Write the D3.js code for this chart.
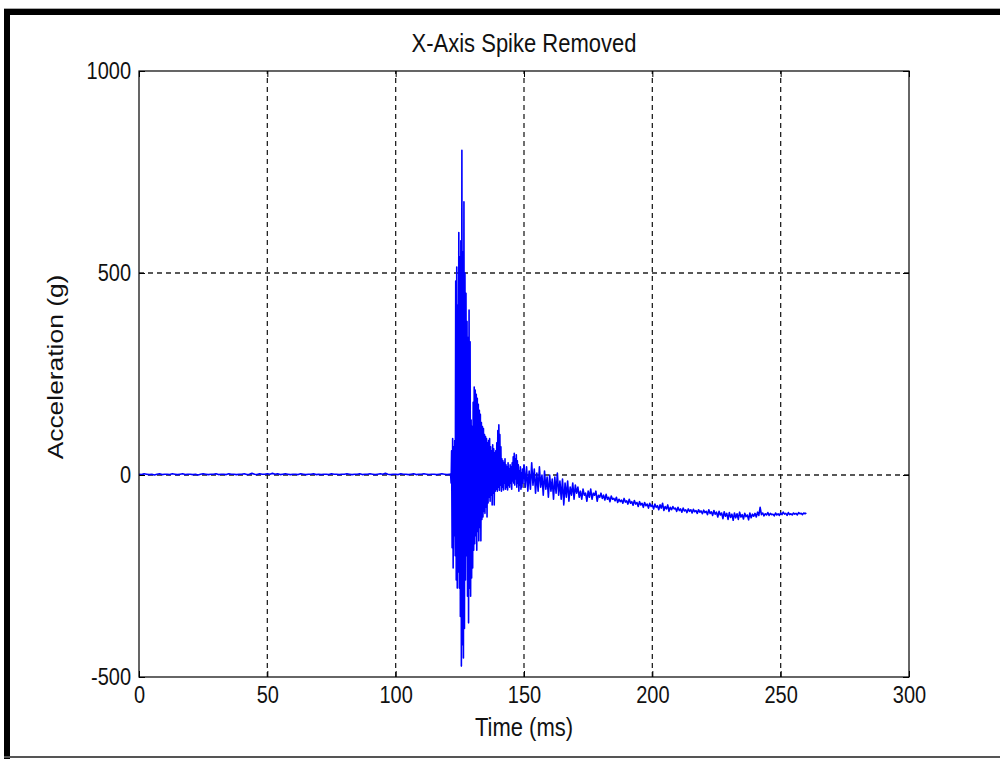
<!DOCTYPE html>
<html>
<head>
<meta charset="utf-8">
<script src="https://cdn.jsdelivr.net/npm/d3@7"></script>
<style>
  html, body { margin: 0; padding: 0; background: #fff; }
  svg { display: block; font-family: "Liberation Sans", Arial, sans-serif; }
</style>
</head>
<body>
<svg id="chart" width="1000" height="759"></svg>
<script>
// ---- data ----
const titleText = "X-Axis Spike Removed";
const xLabelText = "Time (ms)";
const yLabelText = "Acceleration (g)";
const xTicks = [0, 50, 100, 150, 200, 250, 300];
const yTicks = [-500, 0, 500, 1000];
const xDomain = [0, 300];
const yDomain = [-500, 1000];

// pre-event segment: 0..120 ms, 1 ms step
const preStart = 0, preStep = 1;
const preAccel = [2,1,3,2,1,2,0,2,3,1, 2,2,1,3,2,1,2,3,1,2, 2,1,2,0,2,3,2,1,2,2,
  3,1,2,2,1,3,2,2,1,2, 2,3,1,2,4,2,1,3,2,2, 3,2,4,2,3,1,2,3,2,1, 2,2,1,3,2,1,2,2,3,1,
  2,1,2,2,1,3,2,2,1,2, 2,3,2,1,2,2,3,1,2,2, 3,2,1,2,3,2,4,2,1,2, 2,1,3,2,2,1,2,3,1,2,
  2,3,2,1,2,2,1,2,3,2, 1];

// impact burst: 121..149.8 ms, 0.2 ms step
const burstStart = 121, burstStep = 0.2;
const burstAccel = [2,0,3,-20,60,-180,90,-230,70,-150,
  85,-200,480,-260,515,-280,420,-240,600,-280,
  540,-350,580,-473,804,-420,552,-453,676,-380,
  500,-260,450,-200,380,-300,340,-366,408,-280,
  330,-300,136,-255,120,-230,180,-186,218,-170,
  210,-150,200,-186,190,-140,175,-163,160,-130,
  150,-163,130,-110,120,-104,115,-90,100,-95,
  95,-80,90,-104,80,-69,85,-55,90,-65,
  70,-50,60,-74,75,-45,65,-74,55,-40,
  60,-35,80,-40,110,-30,124,-38,100,-25,
  70,-40,40,-30,35,-37,30,-20,40,-35,
  25,-30,20,-37,30,-25,15,-30,25,-20,
  20,-35,30,-15,45,-20,54,-25,40,-10,
  50,-30,35,-20,25,-40,10,-25,20,-35,
  5,-30,15,-20,10];

// decay: 150..179.5 ms, 0.5 ms step
const decayStart = 150, decayStep = 0.5;
const decayAccel = [25,-30,20,-40,10,-35,30,-25,15,-45,
  5,-40,20,-30,0,-50,10,-35,-5,-55,
  0,-40,-10,-60,-5,-45,5,-50,-15,-60,
  -10,-74,-20,-55,-15,-65,-30,-50,-20,-60,
  -25,-45,-30,-55,-40,-60,-35,-50,-45,-65,
  -40,-55,-35,-60,-45,-50,-40,-65,-50,-55];

// tail: 180..260 ms, 0.5 ms step
const tailStart = 180, tailStep = 0.5;
const tailAccel = [-45,-58,-50,-62,-48,-60,-55,-66,-52,-60,
  -58,-64,-55,-68,-60,-66,-62,-70,-58,-67,
  -64,-72,-60,-70,-66,-75,-63,-72,-68,-78,
  -66,-74,-70,-80,-68,-76,-72,-82,-70,-78,
  -74,-84,-72,-80,-76,-86,-74,-82,-70,-88,
  -78,-84,-74,-90,-80,-86,-78,-84,-82,-90,
  -80,-88,-84,-92,-82,-89,-86,-93,-84,-90,
  -86,-94,-85,-91,-88,-95,-86,-92,-89,-96,
  -87,-93,-90,-98,-86,-95,-91,-100,-88,-97,
  -92,-104,-90,-99,-94,-108,-91,-102,-95,-110,
  -93,-105,-97,-112,-94,-106,-96,-110,-92,-104,
  -98,-109,-95,-103,-99,-111,-94,-106,-97,-102,
  -95,-104,-92,-100,-80,-98,-94,-101,-96,-99,
  -93,-100,-95,-98,-97,-101,-94,-99,-96,-100,
  -94,-98,-92,-97,-95,-100,-93,-98,-96,-99,
  -94,-97,-95,-99,-93,-96,-95,-98,-94,-96,
  -94];

const segments = [
  {start: preStart, step: preStep, values: preAccel},
  {start: burstStart, step: burstStep, values: burstAccel},
  {start: decayStart, step: decayStep, values: decayAccel},
  {start: tailStart, step: tailStep, values: tailAccel}
];
const points = [];
segments.forEach(s => s.values.forEach((v, i) => points.push([s.start + i * s.step, v])));

// ---- drawing ----
const svg = d3.select("#chart");
const L = 139, R = 909, T = 71, B = 677;
const SY = 1.2; // vertical text stretch
const x = d3.scaleLinear().domain(xDomain).range([L, R]);
const y = d3.scaleLinear().domain(yDomain).range([B, T]);
const fmt = d => String(d);

svg.append("rect").attr("width", 1000).attr("height", 759).attr("fill", "#fff");

// outer frame
svg.append("rect").attr("x", 4).attr("y", 8).attr("width", 996).attr("height", 1).attr("fill", "#aaa");
svg.append("rect").attr("x", 4).attr("y", 9).attr("width", 996).attr("height", 6).attr("fill", "#000");
svg.append("rect").attr("x", 4).attr("y", 9).attr("width", 6).attr("height", 750).attr("fill", "#000");
svg.append("rect").attr("x", 4).attr("y", 756).attr("width", 996).attr("height", 2).attr("fill", "#555");

// grid
const grid = svg.append("g").attr("stroke", "#222").attr("stroke-width", 1.3).attr("stroke-dasharray", "5,4");
grid.selectAll("line.gx").data(xTicks.filter(t => t > xDomain[0] && t < xDomain[1])).enter().append("line")
  .attr("x1", d => x(d)).attr("x2", d => x(d)).attr("y1", B).attr("y2", T);
grid.selectAll("line.gy").data(yTicks.filter(t => t > yDomain[0] && t < yDomain[1])).enter().append("line")
  .attr("y1", d => y(d)).attr("y2", d => y(d)).attr("x1", L).attr("x2", R);

// data line
svg.append("path").datum(points)
  .attr("fill", "none").attr("stroke", "#0000ff").attr("stroke-width", 1.6)
  .attr("stroke-linejoin", "round")
  .attr("d", d3.line().x(d => x(d[0])).y(d => y(d[1])));

// axes
function styleAxis(g) {
  g.select(".domain").remove();
  g.selectAll(".tick line").attr("stroke", "#000").attr("stroke-width", 1);
  g.selectAll(".tick text").attr("fill", "#111").attr("font-size", 20)
    .attr("font-family", "'Liberation Sans', Arial, sans-serif")
    .attr("transform", `scale(1,${SY})`);
}
svg.append("g").attr("transform", `translate(0,${B})`)
  .call(d3.axisBottom(x).tickValues(xTicks).tickFormat(fmt).tickSizeInner(-6).tickSizeOuter(0).tickPadding(7.5))
  .call(styleAxis);
svg.append("g").attr("transform", `translate(${L},0)`)
  .call(d3.axisLeft(y).tickValues(yTicks).tickFormat(fmt).tickSizeInner(-6).tickSizeOuter(0).tickPadding(8))
  .call(styleAxis);
svg.append("g").attr("transform", `translate(0,${T})`)
  .call(d3.axisTop(x).tickValues(xTicks).tickSizeInner(-6).tickSizeOuter(0).tickFormat(""))
  .call(styleAxis);
svg.append("g").attr("transform", `translate(${R},0)`)
  .call(d3.axisRight(y).tickValues(yTicks).tickSizeInner(-6).tickSizeOuter(0).tickFormat(""))
  .call(styleAxis);

// box
svg.append("rect").attr("x", L).attr("y", T).attr("width", R - L).attr("height", B - T)
  .attr("fill", "none").attr("stroke", "#000").attr("stroke-width", 1.2);

// labels
svg.append("text").text(titleText)
  .attr("transform", `translate(${(L + R) / 2},52) scale(1,${SY})`)
  .attr("text-anchor", "middle").attr("font-size", 22).attr("fill", "#111");
svg.append("text").text(xLabelText)
  .attr("transform", `translate(${(L + R) / 2},736) scale(1,${SY})`)
  .attr("text-anchor", "middle").attr("font-size", 22).attr("fill", "#111");
svg.append("text").text(yLabelText)
  .attr("transform", `translate(63,367) scale(1,${SY}) rotate(-90)`)
  .attr("text-anchor", "middle").attr("font-size", 22).attr("fill", "#111");
</script>
</body>
</html>
